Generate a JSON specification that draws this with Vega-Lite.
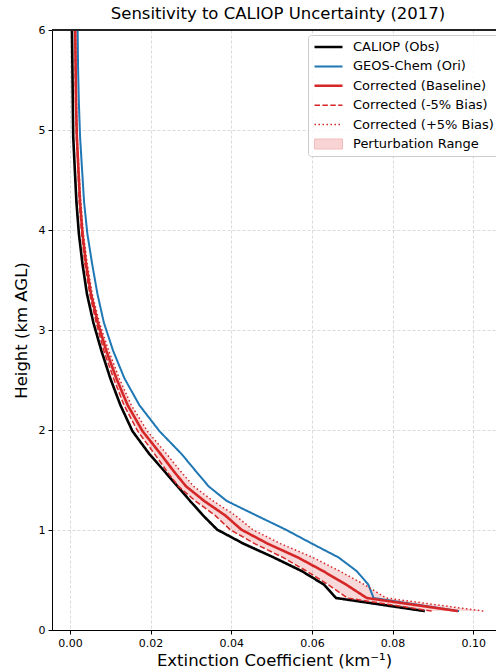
{
  "$schema": "https://vega.github.io/schema/vega-lite/v6.json",
  "width": 444,
  "height": 600,
  "autosize": {"type": "none"},
  "padding": {"left": 52, "top": 30, "right": 0, "bottom": 42},
  "background": "white",
  "title": {"text": "Sensitivity to CALIOP Uncertainty (2017)", "fontSize": 16.5, "font": "DejaVu Sans", "fontWeight": "normal", "color": "black", "anchor": "middle", "dx": 4, "offset": 2},
  "config": {
    "font": "DejaVu Sans",
    "view": {"stroke": "#222222", "strokeWidth": 1},
    "axis": {"domainColor": "black", "tickColor": "black", "labelColor": "black", "titleColor": "black", "labelFontSize": 11, "titleFontSize": 16.5, "titleFontWeight": "normal", "gridColor": "#b0b0b0", "gridDash": [3, 2], "gridWidth": 0.8, "tickSize": 4, "labelPadding": 3, "labelFont": "DejaVu Sans", "titleFont": "DejaVu Sans"}
  },
  "data": {"values": [
    {"h": 0.189, "caliop": 0.0880, "geos": 0.0965, "base": 0.0962, "minus": 0.0897, "plus": 0.1025},
    {"h": 0.320, "caliop": 0.0660, "geos": 0.0753, "base": 0.0736, "minus": 0.0688, "plus": 0.0784},
    {"h": 0.454, "caliop": 0.0630, "geos": 0.0740, "base": 0.0685, "minus": 0.0640, "plus": 0.0730},
    {"h": 0.589, "caliop": 0.0575, "geos": 0.0711, "base": 0.0628, "minus": 0.0587, "plus": 0.0669},
    {"h": 0.726, "caliop": 0.0505, "geos": 0.0666, "base": 0.0565, "minus": 0.0528, "plus": 0.0602},
    {"h": 0.864, "caliop": 0.0430, "geos": 0.0600, "base": 0.0490, "minus": 0.0458, "plus": 0.0522},
    {"h": 1.004, "caliop": 0.0365, "geos": 0.0535, "base": 0.0425, "minus": 0.0397, "plus": 0.0453},
    {"h": 1.146, "caliop": 0.0330, "geos": 0.0462, "base": 0.0385, "minus": 0.0360, "plus": 0.0410},
    {"h": 1.290, "caliop": 0.0298, "geos": 0.0389, "base": 0.0333, "minus": 0.0311, "plus": 0.0355},
    {"h": 1.436, "caliop": 0.0267, "geos": 0.0344, "base": 0.0288, "minus": 0.0269, "plus": 0.0307},
    {"h": 1.584, "caliop": 0.0235, "geos": 0.0313, "base": 0.0258, "minus": 0.0241, "plus": 0.0275},
    {"h": 1.759, "caliop": 0.0197, "geos": 0.0277, "base": 0.0225, "minus": 0.0210, "plus": 0.0240},
    {"h": 1.988, "caliop": 0.0155, "geos": 0.0222, "base": 0.0180, "minus": 0.0168, "plus": 0.0192},
    {"h": 2.249, "caliop": 0.0125, "geos": 0.0172, "base": 0.0143, "minus": 0.0134, "plus": 0.0152},
    {"h": 2.517, "caliop": 0.0100, "geos": 0.0135, "base": 0.0115, "minus": 0.0108, "plus": 0.0122},
    {"h": 2.792, "caliop": 0.0078, "geos": 0.0107, "base": 0.0090, "minus": 0.0084, "plus": 0.0096},
    {"h": 3.074, "caliop": 0.0058, "geos": 0.0084, "base": 0.0069, "minus": 0.0065, "plus": 0.0073},
    {"h": 3.363, "caliop": 0.0042, "geos": 0.0068, "base": 0.0052, "minus": 0.0049, "plus": 0.0055},
    {"h": 3.660, "caliop": 0.0031, "geos": 0.0055, "base": 0.0040, "minus": 0.0037, "plus": 0.0043},
    {"h": 3.965, "caliop": 0.0022, "geos": 0.0043, "base": 0.0031, "minus": 0.0029, "plus": 0.0033},
    {"h": 4.278, "caliop": 0.0016, "geos": 0.0035, "base": 0.0025, "minus": 0.0023, "plus": 0.0027},
    {"h": 4.601, "caliop": 0.0012, "geos": 0.0030, "base": 0.0021, "minus": 0.0020, "plus": 0.0022},
    {"h": 4.934, "caliop": 0.0008, "geos": 0.0025, "base": 0.0017, "minus": 0.0016, "plus": 0.0018},
    {"h": 5.279, "caliop": 0.0007, "geos": 0.0022, "base": 0.0015, "minus": 0.0014, "plus": 0.0016},
    {"h": 5.636, "caliop": 0.0006, "geos": 0.0020, "base": 0.0014, "minus": 0.0013, "plus": 0.0015},
    {"h": 6.005, "caliop": 0.0005, "geos": 0.0019, "base": 0.0013, "minus": 0.0012, "plus": 0.0014}
  ]},
  "layer": [
    {
      "mark": {"type": "area", "color": "#d62728", "opacity": 0.18, "orient": "horizontal", "clip": true},
      "encoding": {
        "y": {"field": "h", "type": "quantitative", "scale": {"domain": [0, 6]}, "axis": {"values": [0, 1, 2, 3, 4, 5, 6], "format": "d", "title": "Height (km AGL)", "titlePadding": 9, "gridOpacity": {"condition": {"test": "datum.value == 6 || datum.value == 0", "value": 0}, "value": 0.6}}},
        "x": {"field": "minus", "type": "quantitative", "scale": {"domain": [-0.00446, 0.10566], "nice": false, "zero": false}, "axis": {"values": [0, 0.02, 0.04, 0.06, 0.08, 0.1], "format": ".2f", "title": "Extinction Coefficient (km⁻¹)", "titlePadding": 4, "gridOpacity": 0.6}},
        "x2": {"field": "plus"}
      }
    },
    {
      "transform": [{"fold": ["caliop", "geos", "base", "minus", "plus"], "as": ["key", "ext"]}],
      "mark": {"type": "line", "clip": true},
      "encoding": {
        "y": {"field": "h", "type": "quantitative", "scale": {"domain": [0, 6]}, "axis": {"values": [0, 1, 2, 3, 4, 5, 6], "format": "d", "title": "Height (km AGL)", "titlePadding": 9, "gridOpacity": {"condition": {"test": "datum.value == 6 || datum.value == 0", "value": 0}, "value": 0.6}}},
        "x": {"field": "ext", "type": "quantitative", "scale": {"domain": [-0.00446, 0.10566], "nice": false, "zero": false}, "axis": {"values": [0, 0.02, 0.04, 0.06, 0.08, 0.1], "format": ".2f", "title": "Extinction Coefficient (km⁻¹)", "titlePadding": 4, "gridOpacity": 0.6}},
        "order": {"field": "h", "type": "quantitative"},
        "color": {
          "field": "key", "type": "nominal",
          "scale": {"domain": ["caliop", "geos", "base", "minus", "plus", "range"], "range": ["#000000", "#1f77b4", "#d62728", "#d62728", "#d62728", "#f2b8b8"]},
          "legend": {
            "title": null,
            "orient": "none",
            "legendX": 256,
            "legendY": 5,
            "labelExpr": "datum.value == 'caliop' ? 'CALIOP (Obs)' : datum.value == 'geos' ? 'GEOS-Chem (Ori)' : datum.value == 'base' ? 'Corrected (Baseline)' : datum.value == 'minus' ? 'Corrected (-5% Bias)' : datum.value == 'plus' ? 'Corrected (+5% Bias)' : 'Perturbation Range'",
            "labelFontSize": 13,
            "labelFont": "DejaVu Sans",
            "labelColor": "black",
            "symbolSize": 784,
            "symbolType": "stroke",
            "clipHeight": 14,
            "rowPadding": 5.4,
            "padding": 5,
            "labelOffset": 9,
            "fillColor": "rgba(255,255,255,0.8)",
            "strokeColor": "#cccccc",
            "cornerRadius": 3,
            "encode": {"symbols": {"update": {
              "shape": [{"test": "datum.value == 'range'", "value": "M-1,-0.36H1V0.36H-1Z"}, {"value": "stroke"}],
              "fill": [{"test": "datum.value == 'range'", "value": "#f8d4d4"}, {"value": "transparent"}]
            }}}
          }
        },
        "strokeDash": {"field": "key", "type": "nominal", "scale": {"domain": ["caliop", "geos", "base", "minus", "plus", "range"], "range": [[1, 0], [1, 0], [1, 0], [5.5, 2.4], [1.5, 2.5], [1, 0]]}},
        "strokeWidth": {"field": "key", "type": "nominal", "scale": {"type": "ordinal", "domain": ["caliop", "geos", "base", "minus", "plus", "range"], "range": [2.6, 2, 2.6, 1.5, 1.5, 1]}}
      }
    },
    {
      "mark": {"type": "rule", "color": "#222222", "strokeWidth": 1},
      "encoding": {"y": {"datum": 6}}
    }
  ]
}
